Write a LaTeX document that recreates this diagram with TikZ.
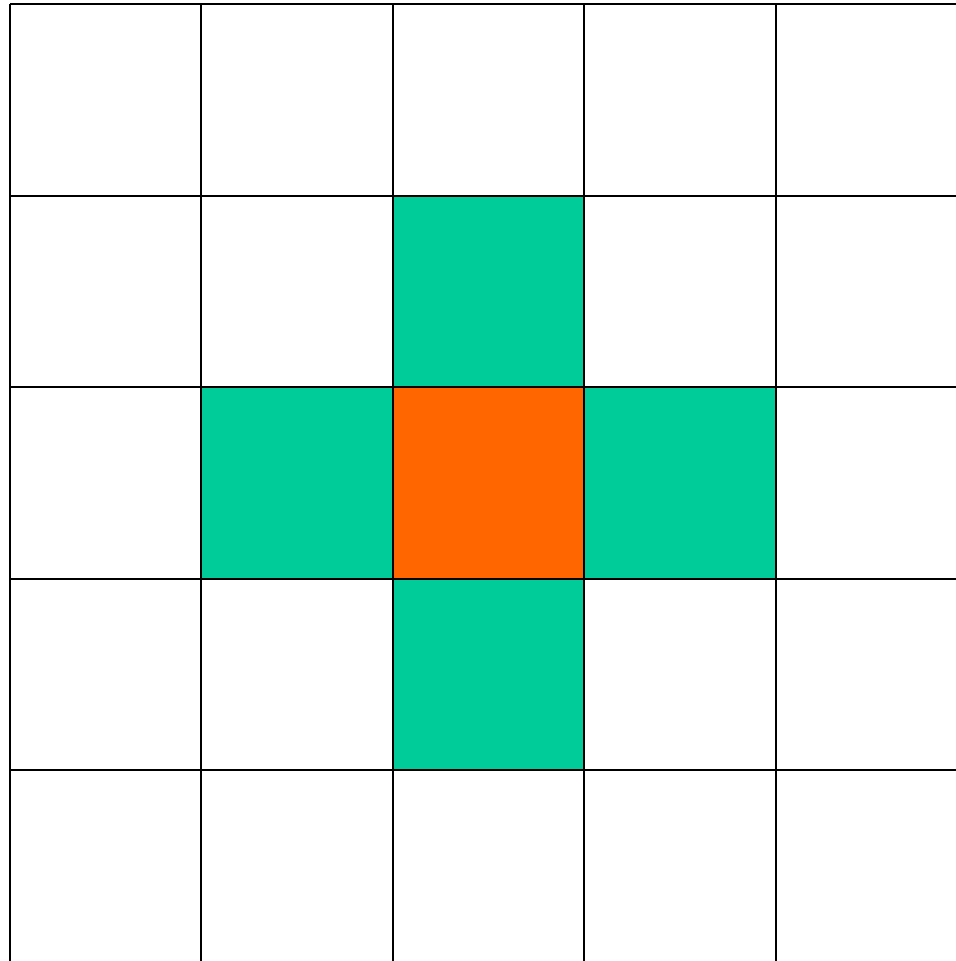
\documentclass[tikz,border=0pt]{standalone}
\usepackage{tikz}
\usepackage{xcolor}
\definecolor{nbrc}{HTML}{00CC99}
\definecolor{ctrc}{HTML}{FF6600}

\begin{document}
\begin{tikzpicture}[gridline/.style={line width=0.6pt, black}]
  \def\cs{2}\def\n{5}
  \useasboundingbox (-0.104,0.047) rectangle (9.88,-9.99);
  \clip (-0.104,0.047) rectangle (9.88,-9.99);
  % neighbour cells (von Neumann)
  \fill[nbrc] (4,-2) rectangle (6,-4);
  \fill[nbrc] (2,-4) rectangle (4,-6);
  \fill[nbrc] (6,-4) rectangle (8,-6);
  \fill[nbrc] (4,-6) rectangle (6,-8);
  % centre cell
  \fill[ctrc] (4,-4) rectangle (6,-6);
  % grid lines
  \foreach \i in {0,...,4} {
    \draw[gridline] (\i*\cs,0) -- (\i*\cs,-10.5);
    \draw[gridline] (0,-\i*\cs) -- (10.5,-\i*\cs);
  }
\end{tikzpicture}
\end{document}
